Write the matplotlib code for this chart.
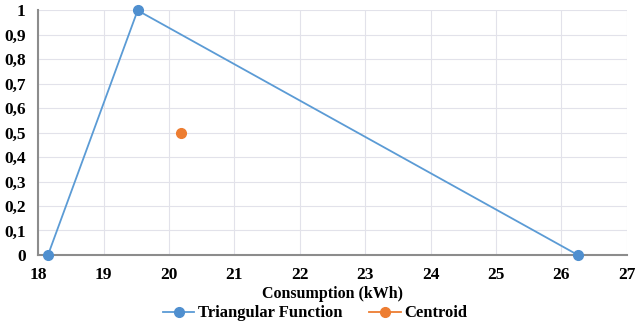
import matplotlib.pyplot as plt
from matplotlib.ticker import FuncFormatter

# triangular membership function and its centroid
tri_x = [18.15, 19.52, 26.25]
tri_y = [0, 1, 0]
cen_x = [20.18]
cen_y = [0.5]

x_ticks = list(range(18, 28))
y_ticks = [i / 10 for i in range(11)]

plt.rcParams['font.family'] = ['Liberation Serif', 'DejaVu Serif']
plt.rcParams['font.weight'] = 'bold'

fig = plt.figure(figsize=(6.37, 3.26), dpi=100)
ax = fig.add_axes([0.06, 0.218, 0.924, 0.75])

ax.plot(tri_x, tri_y, color='#5b9bd5', lw=1.3, marker='o', ms=7,
        mfc='#4f8fcf', mec='#4f8fcf', label='Triangular Function',
        zorder=3, clip_on=False)
ax.plot(cen_x, cen_y, color='#ed7d31', lw=1.3, marker='o', ms=7,
        mfc='#ed7d31', mec='#ed7d31', label='Centroid', zorder=3)

ax.set_xlim(18, 27)
ax.set_ylim(0, 1)
ax.set_xticks(x_ticks)
ax.set_yticks(y_ticks)
ax.yaxis.set_major_formatter(FuncFormatter(
    lambda v, p: '0' if v == 0 else ('1' if v == 1 else f'{v:.1f}'.replace('.', ','))))
ax.tick_params(axis='both', length=0, labelsize=12.5)
ax.tick_params(axis='x', pad=9)
ax.tick_params(axis='y', pad=9)
ax.grid(True, color='#e2e2ea', lw=0.8)
ax.set_axisbelow(True)
for s in ['top', 'right']:
    ax.spines[s].set_visible(False)
ax.spines['left'].set_color('#8c8c8c')
ax.spines['left'].set_linewidth(1.5)
ax.spines['bottom'].set_color('#8c8c8c')
ax.spines['bottom'].set_linewidth(1.5)

ax.set_xlabel('Consumption (kWh)', fontsize=11.5, fontweight='bold', labelpad=2)
ax.legend(loc='upper center', bbox_to_anchor=(0.47, -0.145), ncol=2, frameon=False,
          fontsize=12, handlelength=1.9, handletextpad=0.2, columnspacing=1.6)

fig.savefig('out.png', dpi=100)
